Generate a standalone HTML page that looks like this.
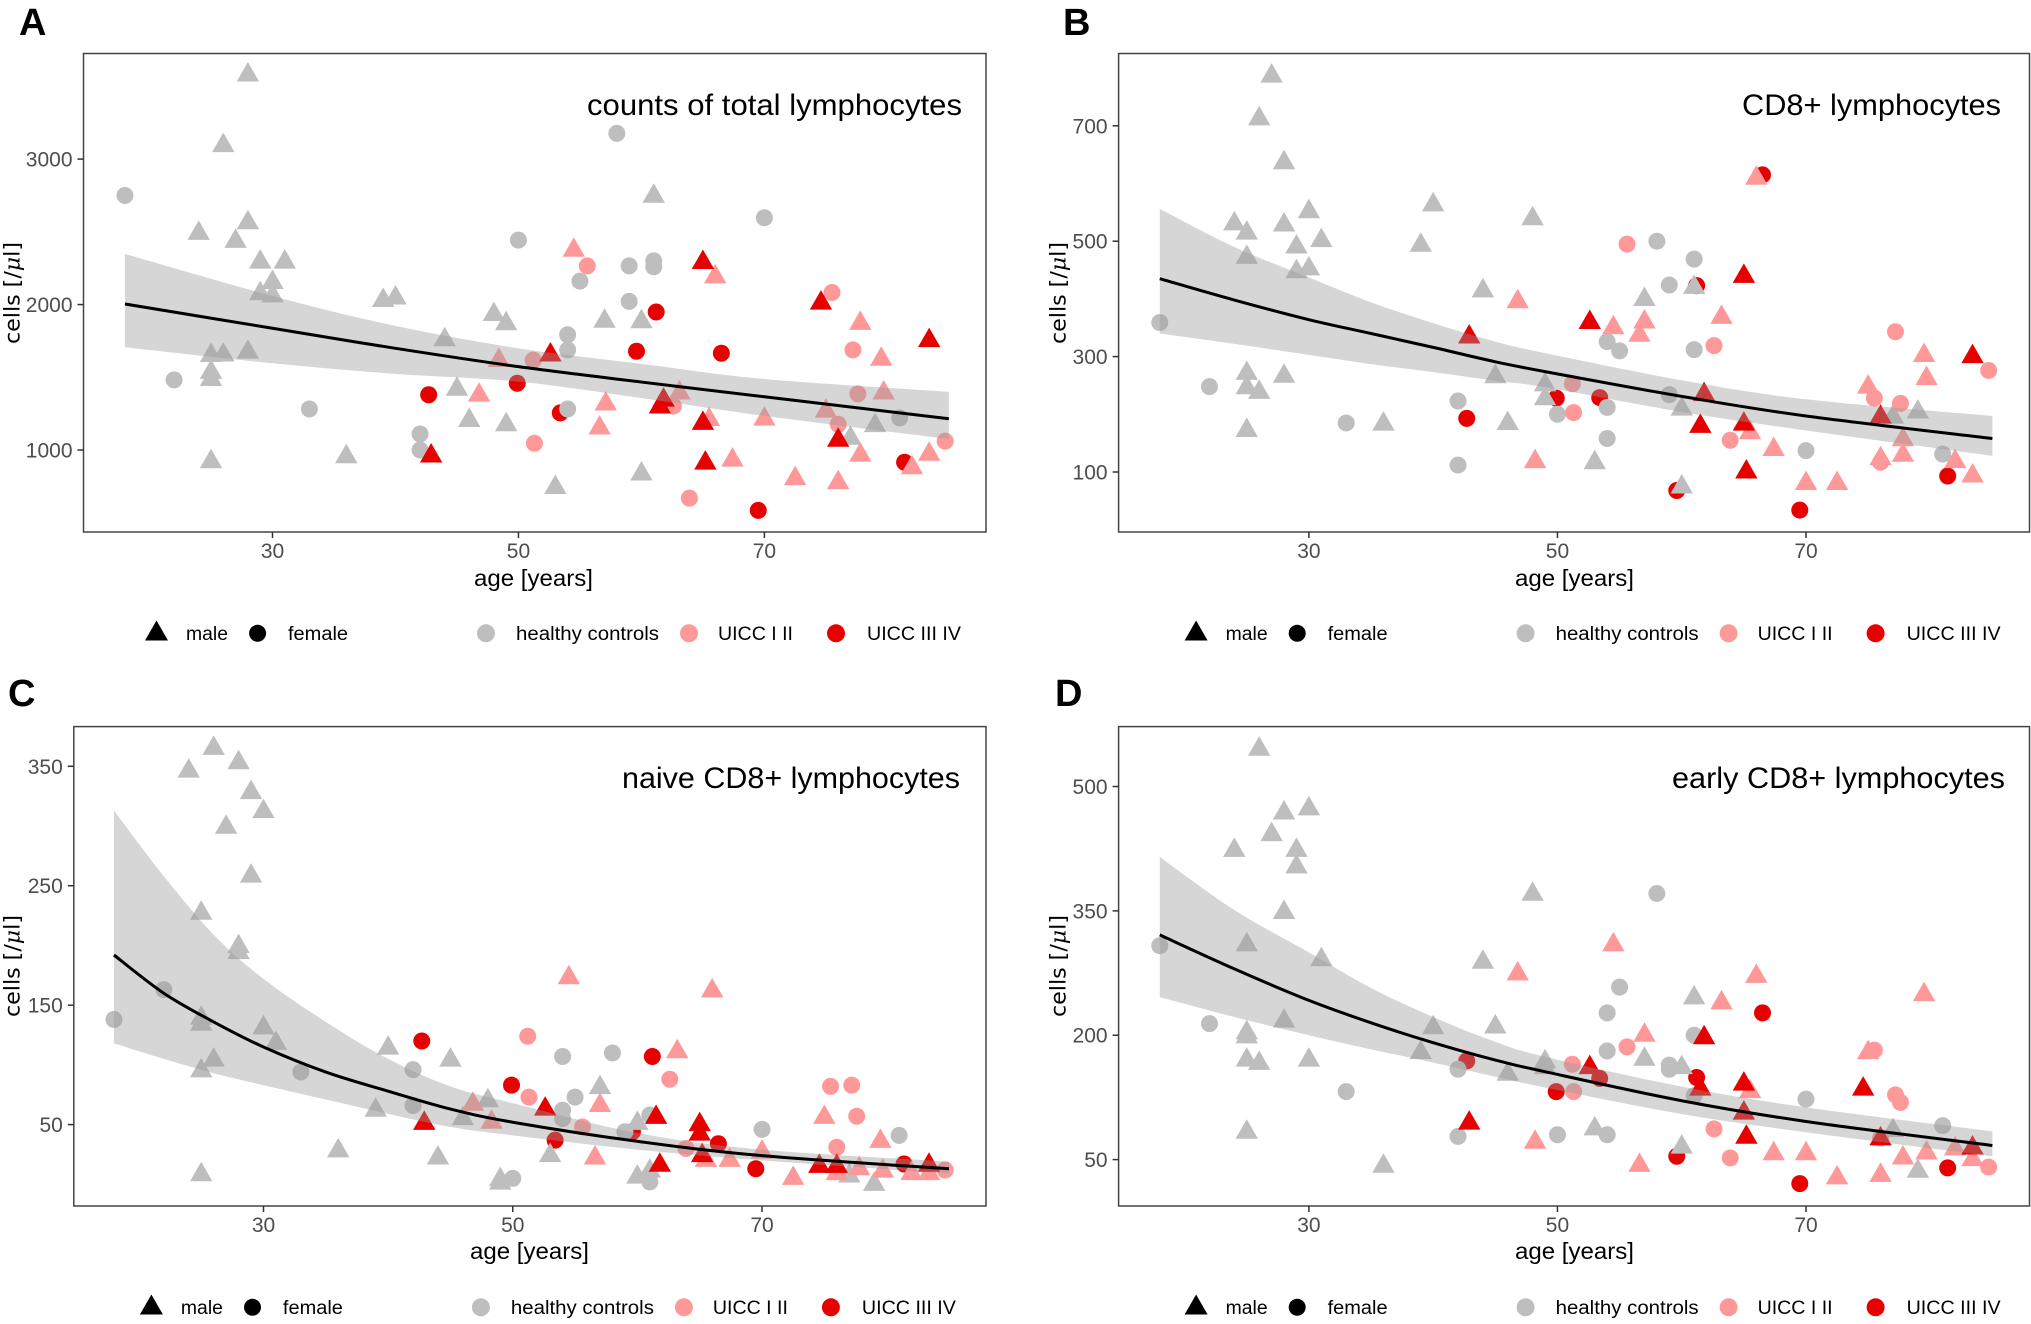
<!DOCTYPE html>
<html lang="en">
<head>
<meta charset="utf-8">
<title>Lymphocyte counts by age</title>
<style>
html,body{margin:0;padding:0;background:#fff;}
svg{display:block;}
text{font-family:"Liberation Sans",sans-serif;}
.letter{font-size:38px;font-weight:bold;fill:#000;}
.anno{font-size:30px;fill:#000;}
.xtitle{font-size:23px;fill:#000;}
.ytitle{font-size:21px;fill:#000;font-family:"DejaVu Sans",sans-serif;}
.ytitle tspan{font-style:italic;font-family:"DejaVu Serif","Liberation Serif",serif;}
.leg{font-size:19px;fill:#000;}
.tick{font-size:21px;fill:#4d4d4d;}
</style>
</head>
<body>
<svg id="figure" xmlns="http://www.w3.org/2000/svg" width="2031" height="1324" viewBox="0 0 2031 1324">
<rect x="0" y="0" width="2031" height="1324" fill="#fff"/>

<g id="panel-a">
<g id="panel-a-plot"></g>
<text class="letter" x="19" y="35">A</text>
<text class="anno" x="587" y="115" textLength="375" lengthAdjust="spacingAndGlyphs">counts of total lymphocytes</text>
<text class="xtitle" x="474" y="586" textLength="119" lengthAdjust="spacingAndGlyphs">age [years]</text>
<text class="ytitle" transform="translate(19.5,344) rotate(-90)" textLength="102" lengthAdjust="spacingAndGlyphs">cells [/<tspan>μ</tspan>l]</text>
<g>
<polygon points="156.5,620.5 168,640.5 145,640.5" fill="#000"/>
<text class="leg" x="186" y="640" textLength="42" lengthAdjust="spacingAndGlyphs">male</text>
<circle cx="257.6" cy="633.3" r="8.5" fill="#000"/>
<text class="leg" x="288" y="640" textLength="60" lengthAdjust="spacingAndGlyphs">female</text>
<circle cx="486" cy="633.3" r="9" fill="#bebebe"/>
<text class="leg" x="516" y="640" textLength="143" lengthAdjust="spacingAndGlyphs">healthy controls</text>
<circle cx="689" cy="633.3" r="9" fill="#ff9999"/>
<text class="leg" x="718" y="640" textLength="75" lengthAdjust="spacingAndGlyphs">UICC I II</text>
<circle cx="836" cy="633.3" r="9" fill="#e60000"/>
<text class="leg" x="867" y="640" textLength="94" lengthAdjust="spacingAndGlyphs">UICC III IV</text>
</g>
</g>

<g id="panel-b">
<g id="panel-b-plot"></g>
<text class="letter" x="1063" y="35">B</text>
<text class="anno" x="1742" y="115" textLength="259" lengthAdjust="spacingAndGlyphs">CD8+ lymphocytes</text>
<text class="xtitle" x="1515" y="586" textLength="119" lengthAdjust="spacingAndGlyphs">age [years]</text>
<text class="ytitle" transform="translate(1065.5,344) rotate(-90)" textLength="102" lengthAdjust="spacingAndGlyphs">cells [/<tspan>μ</tspan>l]</text>
<g transform="translate(1039.6,0)">
<polygon points="156.5,620.5 168,640.5 145,640.5" fill="#000"/>
<text class="leg" x="186" y="640" textLength="42" lengthAdjust="spacingAndGlyphs">male</text>
<circle cx="257.6" cy="633.3" r="8.5" fill="#000"/>
<text class="leg" x="288" y="640" textLength="60" lengthAdjust="spacingAndGlyphs">female</text>
<circle cx="486" cy="633.3" r="9" fill="#bebebe"/>
<text class="leg" x="516" y="640" textLength="143" lengthAdjust="spacingAndGlyphs">healthy controls</text>
<circle cx="689" cy="633.3" r="9" fill="#ff9999"/>
<text class="leg" x="718" y="640" textLength="75" lengthAdjust="spacingAndGlyphs">UICC I II</text>
<circle cx="836" cy="633.3" r="9" fill="#e60000"/>
<text class="leg" x="867" y="640" textLength="94" lengthAdjust="spacingAndGlyphs">UICC III IV</text>
</g>
</g>

<g id="panel-c">
<g id="panel-c-plot"></g>
<text class="letter" x="8" y="706">C</text>
<text class="anno" x="622" y="788" textLength="338" lengthAdjust="spacingAndGlyphs">naive CD8+ lymphocytes</text>
<text class="xtitle" x="470" y="1259" textLength="119" lengthAdjust="spacingAndGlyphs">age [years]</text>
<text class="ytitle" transform="translate(19.5,1017) rotate(-90)" textLength="102" lengthAdjust="spacingAndGlyphs">cells [/<tspan>μ</tspan>l]</text>
<g transform="translate(-5.1,674)">
<polygon points="156.5,620.5 168,640.5 145,640.5" fill="#000"/>
<text class="leg" x="186" y="640" textLength="42" lengthAdjust="spacingAndGlyphs">male</text>
<circle cx="257.6" cy="633.3" r="8.5" fill="#000"/>
<text class="leg" x="288" y="640" textLength="60" lengthAdjust="spacingAndGlyphs">female</text>
<circle cx="486" cy="633.3" r="9" fill="#bebebe"/>
<text class="leg" x="516" y="640" textLength="143" lengthAdjust="spacingAndGlyphs">healthy controls</text>
<circle cx="689" cy="633.3" r="9" fill="#ff9999"/>
<text class="leg" x="718" y="640" textLength="75" lengthAdjust="spacingAndGlyphs">UICC I II</text>
<circle cx="836" cy="633.3" r="9" fill="#e60000"/>
<text class="leg" x="867" y="640" textLength="94" lengthAdjust="spacingAndGlyphs">UICC III IV</text>
</g>
</g>

<g id="panel-d">
<g id="panel-d-plot"></g>
<text class="letter" x="1055" y="706">D</text>
<text class="anno" x="1672" y="788" textLength="333" lengthAdjust="spacingAndGlyphs">early CD8+ lymphocytes</text>
<text class="xtitle" x="1515" y="1259" textLength="119" lengthAdjust="spacingAndGlyphs">age [years]</text>
<text class="ytitle" transform="translate(1065.5,1017) rotate(-90)" textLength="102" lengthAdjust="spacingAndGlyphs">cells [/<tspan>μ</tspan>l]</text>
<g transform="translate(1039.6,674)">
<polygon points="156.5,620.5 168,640.5 145,640.5" fill="#000"/>
<text class="leg" x="186" y="640" textLength="42" lengthAdjust="spacingAndGlyphs">male</text>
<circle cx="257.6" cy="633.3" r="8.5" fill="#000"/>
<text class="leg" x="288" y="640" textLength="60" lengthAdjust="spacingAndGlyphs">female</text>
<circle cx="486" cy="633.3" r="9" fill="#bebebe"/>
<text class="leg" x="516" y="640" textLength="143" lengthAdjust="spacingAndGlyphs">healthy controls</text>
<circle cx="689" cy="633.3" r="9" fill="#ff9999"/>
<text class="leg" x="718" y="640" textLength="75" lengthAdjust="spacingAndGlyphs">UICC I II</text>
<circle cx="836" cy="633.3" r="9" fill="#e60000"/>
<text class="leg" x="867" y="640" textLength="94" lengthAdjust="spacingAndGlyphs">UICC III IV</text>
</g>
</g>
</svg>

<script>
const xTickValues = [30, 50, 70];

// Panel A: total lymphocytes
const aYTicks = [1000, 2000, 3000];
const aHealthyMaleAge = [28,26,24,27,28,29,31,30,29,30,39,40,25,26,28,25,25,25,36,44,45,46,48,49,49,53,57,60,60,61,77,79];
const aHealthyMaleCells = [3578,3093,2489,2434,2562,2292,2292,2152,2074,2060,2028,2045,1650,1653,1673,1534,1485,919,954,1758,1418,1203,1932,1868,1174,742,1885,1882,835,2745,1081,1168];
const aHealthyFemaleAge = [18,22,33,42,42,50,54,54,54,55,58,59,59,61,61,70,81];
const aHealthyFemaleCells = [2750,1482,1282,1110,1000,2443,1792,1688,1282,2161,3177,2266,2022,2300,2260,2597,1221];
const aEarlyMaleAge = [54.5,66,77.8,79.5,48.4,63.1,79.7,46.8,57.1,56.6,75,65.5,70,77.8,83.4,67.4,82,72.5,76];
const aEarlyMaleCells = [2373,2190,1871,1624,1615,1392,1392,1377,1316,1151,1267,1209,1212,965,971,930,878,803,776];
const aEarlyFemaleAge = [55.6,75.5,77.2,51.2,77.6,62.6,76,51.3,84.7,63.9];
const aEarlyFemaleCells = [2266,2083,1688,1618,1386,1302,1177,1046,1061,669];
const aLateMaleAge = [65,74.6,83.4,52.6,61.8,61.5,65,76,65.2,42.9];
const aLateMaleCells = [2289,2010,1752,1653,1343,1296,1183,1067,910,959];
const aLateFemaleAge = [61.2,59.6,66.5,49.9,42.7,53.4,81.4,69.5];
const aLateFemaleCells = [1949,1679,1665,1459,1380,1255,916,585];
const aCurveAge = [18,30,40,50,60,70,85];
const aCurveFit = [2004,1837,1699,1573,1467,1366,1215];
const aCurveUpper = [2348,2059,1853,1699,1592,1488,1400];
const aCurveLower = [1706,1596,1523,1470,1357,1235,1075];

// Panel B: CD8+ lymphocytes
const bYTicks = [100, 300, 500, 700];
const bHealthyMaleAge = [27,26,28,24,25,30,28,31,29,25,30,29,39,40,48,44,25,28,25,26,25,36,45,49,49,46,53,57,61,60,60,77,79];
const bHealthyMaleCells = [786,712,636,530,514,551,528,501,490,472,452,447,493,563,539,414,271,266,246,238,172,183,265,251,227,184,116,399,420,209,74,195,204];
const bHealthyFemaleAge = [18,22,33,42,42,50,54,54,54,55,58,59,59,61,61,70,81];
const bHealthyFemaleCells = [359,248,185,223,112,200,326,212,158,310,500,424,234,469,312,137,131];
const bEarlyMaleAge = [54.5,66,63.2,46.8,57,56.6,48.2,79.5,79.7,75,65.5,67.4,77.8,77.8,76,82,83.4,70,72.5];
const bEarlyMaleCells = [350,609,368,395,360,337,118,302,262,247,168,139,156,129,123,118,93,80,80];
const bEarlyFemaleAge = [55.6,77.2,62.6,84.7,75.5,51.2,77.6,51.3,63.9,76];
const bEarlyFemaleCells = [495,343,319,276,228,253,219,203,155,117];
const bLateMaleAge = [65,52.6,42.9,83.4,61.8,76,61.5,65,65.2];
const bLateMaleCells = [439,359,334,300,234,195,179,183,100];
const bLateFemaleAge = [66.5,61.2,49.9,53.4,42.7,59.6,81.4,69.5];
const bLateFemaleCells = [615,423,228,229,193,68,93,34];
const bCurveAge = [18,24,30,35,40,45,49,60,70,85];
const bCurveFit = [435,398,364,340,316,291,274,231,197,158];
const bCurveUpper = [556,490,437,394,358,326,306,259,226,197];
const bCurveLower = [340,322,303,287,273,258,247,204,172,128];

// Panel C: naive CD8+ lymphocytes
const cYTicks = [50, 150, 250, 350];
const cHealthyMaleAge = [26,24,28,29,30,27,29,25,28,28,25,25,30,31,26,25,25,40,45,39,36,44,46,48,49,49,53,57,60,60,61,77,79];
const cHealthyMaleCells = [365,346,353,328,312,299,258,227,199,194,139,134,131,118,104,95,8,114,104,62,28,22,55,70,4,1,24,81,51,6,11,7,0];
const cHealthyFemaleAge = [18,22,33,42,42,50,54,54,54,55,58,59,61,61,70,81];
const cHealthyFemaleCells = [138,163,94,96,66,5,107,62,55,73,110,44,58,2,46,41];
const cEarlyMaleAge = [54.5,66,63.2,57,46.8,48.3,56.6,75,79.5,65.5,70,67.4,72.5,76,77.8,79.7,82,83.4];
const cEarlyMaleCells = [173,162,111,66,67,52,22,56,36,20,27,20,5,9,13,11,9,9];
const cEarlyFemaleAge = [51.2,62.6,75.5,77.2,77.6,51.3,55.6,63.9,76,84.7];
const cEarlyFemaleCells = [124,88,82,83,57,73,48,30,31,12];
const cLateMaleAge = [52.6,42.9,61.5,65,65,65.2,61.8,74.6,76,83.4];
const cLateMaleCells = [63,51,56,50,42,24,16,15,15,16];
const cLateFemaleAge = [42.7,61.2,49.9,59.6,53.4,66.5,69.5,81.4];
const cLateFemaleCells = [120,107,83,44,37,34,13,17];
const cCurveAge = [18,22,26,30,35,40,45,50,60,70,85];
const cCurveFit = [192,160,136,115,94,78,63,52,36,24,13];
const cCurveUpper = [313,258,209,172,136,105,82,68,43,29,19];
const cCurveLower = [118,105,93,83,71,59,48,41,29,20,9];

// Panel D: early CD8+ lymphocytes
const dYTicks = [50, 200, 350, 500];
const dHealthyMaleAge = [26,30,28,27,24,29,29,28,25,31,48,44,28,40,45,25,25,39,25,26,30,49,49,46,60,57,61,25,36,53,60,77,79];
const dHealthyMaleCells = [545,473,468,442,423,423,403,348,309,291,370,288,217,209,210,203,198,179,170,166,170,168,161,153,161,171,245,83,42,87,65,85,36];
const dHealthyFemaleAge = [18,22,33,42,42,50,54,54,54,55,58,59,59,61,61,70,81];
const dHealthyFemaleCells = [308,214,132,159,78,80,227,181,80,258,371,164,159,200,127,123,91];
const dEarlyMaleAge = [54.5,66,46.8,79.5,63.2,57,75,65.5,48.2,56.6,67.4,70,77.8,79.7,82,83.4,72.5,76];
const dEarlyMaleCells = [309,271,274,249,239,200,179,132,71,43,57,57,52,58,63,50,28,31];
const dEarlyFemaleAge = [55.6,75.5,77.2,77.6,51.2,51.3,62.6,63.9,84.7,76];
const dEarlyFemaleCells = [186,182,128,119,165,132,87,52,41,76];
const dLateMaleAge = [61.8,52.6,65,74.6,61.5,65,42.9,65.2,76,83.4];
const dLateMaleCells = [197,161,141,135,135,106,94,77,75,64];
const dLateFemaleAge = [66.5,42.7,61.2,53.4,49.9,59.6,81.4,69.5];
const dLateFemaleCells = [227,169,149,148,132,54,40,21];
const dCurveAge = [18,24,30,35,40,45,49,60,70,85];
const dCurveFit = [321,280,242,215,191,170,156,121,96,67];
const dCurveUpper = [415,351,300,257,222,192,174,138,113,84];
const dCurveLower = [246,222,200,183,167,150,137,105,83,54];

const SVG_NS = 'http://www.w3.org/2000/svg';
const colorHealthy = '#bebebe';
const colorEarly = '#ff9999';
const colorLate = '#e60000';

function make(tag) { return document.createElementNS(SVG_NS, tag); }

function linearScale(v0, p0, v1, p1) {
  return function (v) { return p0 + (v - v0) * (p1 - p0) / (v1 - v0); };
}

function smoothPath(pts, start) {
  let d = start + pts[0][0].toFixed(2) + ' ' + pts[0][1].toFixed(2);
  for (let i = 0; i < pts.length - 1; i++) {
    const p0 = pts[Math.max(i - 1, 0)], p1 = pts[i], p2 = pts[i + 1], p3 = pts[Math.min(i + 2, pts.length - 1)];
    const c1x = p1[0] + (p2[0] - p0[0]) / 6, c1y = p1[1] + (p2[1] - p0[1]) / 6;
    const c2x = p2[0] - (p3[0] - p1[0]) / 6, c2y = p2[1] - (p3[1] - p1[1]) / 6;
    d += ' C' + c1x.toFixed(2) + ' ' + c1y.toFixed(2) + ' ' + c2x.toFixed(2) + ' ' + c2y.toFixed(2) + ' ' + p2[0].toFixed(2) + ' ' + p2[1].toFixed(2);
  }
  return d;
}

function drawTriangles(root, ages, cells, x, y, color, label) {
  ages.forEach(function (a, i) {
    const cx = x(a), cy = y(cells[i]);
    const el = make('polygon');
    el.setAttribute('points', cx + ',' + (cy - 13) + ' ' + (cx + 11.2) + ',' + (cy + 6.5) + ' ' + (cx - 11.2) + ',' + (cy + 6.5));
    el.setAttribute('fill', color);
    
    
    root.appendChild(el);
  });
}

function drawCircles(root, ages, cells, x, y, color, label) {
  ages.forEach(function (a, i) {
    const el = make('circle');
    el.setAttribute('cx', x(a));
    el.setAttribute('cy', y(cells[i]));
    el.setAttribute('r', 8.5);
    el.setAttribute('fill', color);
    
    
    root.appendChild(el);
  });
}

function drawPanel(cfg) {
  const root = document.getElementById(cfg.id);
  const x = cfg.x, y = cfg.y;

  const bg = make('rect');
  bg.setAttribute('x', cfg.left);
  bg.setAttribute('y', cfg.top);
  bg.setAttribute('width', cfg.right - cfg.left);
  bg.setAttribute('height', cfg.bottom - cfg.top);
  bg.setAttribute('fill', '#fff');
  
  
  root.appendChild(bg);

  drawCircles(root, cfg.lateF[0], cfg.lateF[1], x, y, colorLate, 'uicc-3-4');
  drawCircles(root, cfg.healthyF[0], cfg.healthyF[1], x, y, colorHealthy, 'healthy');
  drawTriangles(root, cfg.healthyM[0], cfg.healthyM[1], x, y, colorHealthy, 'healthy');
  drawCircles(root, cfg.earlyF[0], cfg.earlyF[1], x, y, colorEarly, 'uicc-1-2');
  drawTriangles(root, cfg.earlyM[0], cfg.earlyM[1], x, y, colorEarly, 'uicc-1-2');
  drawTriangles(root, cfg.lateM[0], cfg.lateM[1], x, y, colorLate, 'uicc-3-4');

  const up = cfg.curve[0].map(function (a, i) { return [x(a), y(cfg.curve[2][i])]; });
  const lo = cfg.curve[0].map(function (a, i) { return [x(a), y(cfg.curve[3][i])]; }).reverse();
  const fit = cfg.curve[0].map(function (a, i) { return [x(a), y(cfg.curve[1][i])]; });

  const band = make('path');
  band.setAttribute('d', smoothPath(up, 'M') + ' ' + smoothPath(lo, 'L') + ' Z');
  band.setAttribute('fill', '#999999');
  band.setAttribute('fill-opacity', '0.4');
  
  
  root.appendChild(band);

  const line = make('path');
  line.setAttribute('d', smoothPath(fit, 'M'));
  line.setAttribute('fill', 'none');
  line.setAttribute('stroke', '#000');
  line.setAttribute('stroke-width', '3');
  
  
  root.appendChild(line);

  const frame = make('rect');
  frame.setAttribute('x', cfg.left);
  frame.setAttribute('y', cfg.top);
  frame.setAttribute('width', cfg.right - cfg.left);
  frame.setAttribute('height', cfg.bottom - cfg.top);
  frame.setAttribute('fill', 'none');
  frame.setAttribute('stroke', '#444');
  frame.setAttribute('stroke-width', '1.5');
  
  
  root.appendChild(frame);

  xTickValues.forEach(function (v) {
    const t = make('line');
    t.setAttribute('x1', x(v));
    t.setAttribute('x2', x(v));
    t.setAttribute('y1', cfg.bottom);
    t.setAttribute('y2', cfg.bottom + 6);
    t.setAttribute('stroke', '#333');
    t.setAttribute('stroke-width', '1.5');
    
    
    root.appendChild(t);
    const l = make('text');
    l.setAttribute('class', 'tick');
    l.setAttribute('x', x(v));
    l.setAttribute('y', cfg.bottom + 26);
    l.setAttribute('text-anchor', 'middle');
    
    
    l.textContent = String(v);
    root.appendChild(l);
  });

  cfg.yTicks.forEach(function (v) {
    const t = make('line');
    t.setAttribute('x1', cfg.left - 6);
    t.setAttribute('x2', cfg.left);
    t.setAttribute('y1', y(v));
    t.setAttribute('y2', y(v));
    t.setAttribute('stroke', '#333');
    t.setAttribute('stroke-width', '1.5');
    
    
    root.appendChild(t);
    const l = make('text');
    l.setAttribute('class', 'tick');
    l.setAttribute('x', cfg.left - 11);
    l.setAttribute('y', y(v) + 7.5);
    l.setAttribute('text-anchor', 'end');
    
    
    l.textContent = String(v);
    root.appendChild(l);
  });
}

drawPanel({
  id: 'panel-a-plot', left: 83.5, right: 986, top: 53.5, bottom: 532,
  x: linearScale(30, 272.5, 70, 764.4), y: linearScale(1000, 450, 3000, 159.1), yTicks: aYTicks,
  healthyM: [aHealthyMaleAge, aHealthyMaleCells], healthyF: [aHealthyFemaleAge, aHealthyFemaleCells],
  earlyM: [aEarlyMaleAge, aEarlyMaleCells], earlyF: [aEarlyFemaleAge, aEarlyFemaleCells],
  lateM: [aLateMaleAge, aLateMaleCells], lateF: [aLateFemaleAge, aLateFemaleCells],
  curve: [aCurveAge, aCurveFit, aCurveUpper, aCurveLower]
});
drawPanel({
  id: 'panel-b-plot', left: 1118.6, right: 2029.5, top: 53.5, bottom: 532,
  x: linearScale(30, 1308.9, 70, 1806), y: linearScale(100, 472, 700, 125.8), yTicks: bYTicks,
  healthyM: [bHealthyMaleAge, bHealthyMaleCells], healthyF: [bHealthyFemaleAge, bHealthyFemaleCells],
  earlyM: [bEarlyMaleAge, bEarlyMaleCells], earlyF: [bEarlyFemaleAge, bEarlyFemaleCells],
  lateM: [bLateMaleAge, bLateMaleCells], lateF: [bLateFemaleAge, bLateFemaleCells],
  curve: [bCurveAge, bCurveFit, bCurveUpper, bCurveLower]
});
drawPanel({
  id: 'panel-c-plot', left: 73.8, right: 986, top: 726.6, bottom: 1206,
  x: linearScale(30, 263.5, 70, 762), y: linearScale(50, 1124.6, 350, 766.3), yTicks: cYTicks,
  healthyM: [cHealthyMaleAge, cHealthyMaleCells], healthyF: [cHealthyFemaleAge, cHealthyFemaleCells],
  earlyM: [cEarlyMaleAge, cEarlyMaleCells], earlyF: [cEarlyFemaleAge, cEarlyFemaleCells],
  lateM: [cLateMaleAge, cLateMaleCells], lateF: [cLateFemaleAge, cLateFemaleCells],
  curve: [cCurveAge, cCurveFit, cCurveUpper, cCurveLower]
});
drawPanel({
  id: 'panel-d-plot', left: 1118.6, right: 2029.5, top: 726.6, bottom: 1206,
  x: linearScale(30, 1308.9, 70, 1806), y: linearScale(50, 1159.6, 500, 786.5), yTicks: dYTicks,
  healthyM: [dHealthyMaleAge, dHealthyMaleCells], healthyF: [dHealthyFemaleAge, dHealthyFemaleCells],
  earlyM: [dEarlyMaleAge, dEarlyMaleCells], earlyF: [dEarlyFemaleAge, dEarlyFemaleCells],
  lateM: [dLateMaleAge, dLateMaleCells], lateF: [dLateFemaleAge, dLateFemaleCells],
  curve: [dCurveAge, dCurveFit, dCurveUpper, dCurveLower]
});
</script>
</body>
</html>
